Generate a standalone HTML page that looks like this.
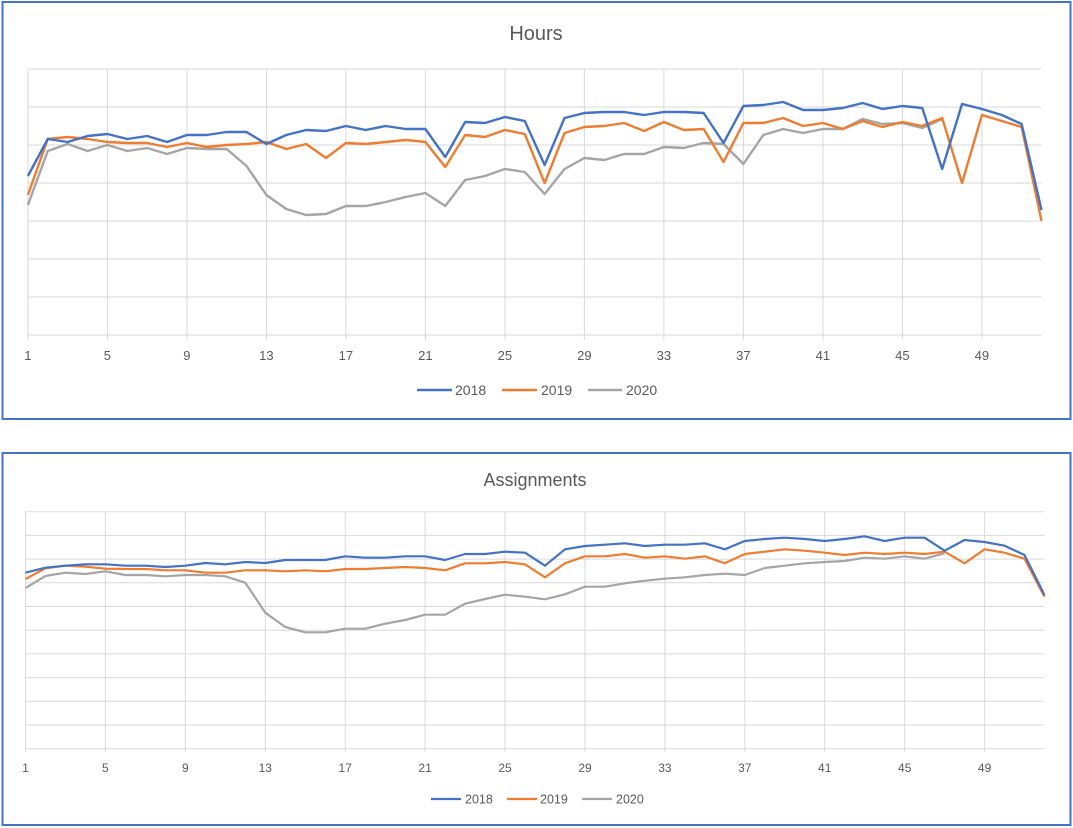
<!DOCTYPE html>
<html><head><meta charset="utf-8"><style>
html,body{margin:0;padding:0;background:#fff;}
svg{display:block;font-family:"Liberation Sans",sans-serif;}
</style></head><body>
<svg width="1073" height="828" viewBox="0 0 1073 828" xmlns="http://www.w3.org/2000/svg">
<rect x="0" y="0" width="1073" height="828" fill="#fff"/>
<!-- frames -->
<rect x="2.5" y="2" width="1068" height="417" fill="none" stroke="#4472c4" stroke-width="2"/>
<rect x="2.5" y="453" width="1068" height="372" fill="none" stroke="#4472c4" stroke-width="2"/>

<!-- TOP CHART -->
<text x="536" y="40" font-size="20" fill="#595959" text-anchor="middle">Hours</text>
<g stroke="#d9d9d9" stroke-width="1">
<line x1="27.9" x2="1041.5" y1="69" y2="69"/><line x1="27.9" x2="1041.5" y1="107" y2="107"/>
<line x1="27.9" x2="1041.5" y1="145" y2="145"/><line x1="27.9" x2="1041.5" y1="183" y2="183"/>
<line x1="27.9" x2="1041.5" y1="221" y2="221"/><line x1="27.9" x2="1041.5" y1="259" y2="259"/>
<line x1="27.9" x2="1041.5" y1="297" y2="297"/><line x1="27.9" x2="1041.5" y1="335" y2="335"/>
<line x1="27.9" x2="27.9" y1="69" y2="340"/><line x1="107.4" x2="107.4" y1="69" y2="340"/>
<line x1="186.9" x2="186.9" y1="69" y2="340"/><line x1="266.4" x2="266.4" y1="69" y2="340"/>
<line x1="345.9" x2="345.9" y1="69" y2="340"/><line x1="425.4" x2="425.4" y1="69" y2="340"/>
<line x1="504.9" x2="504.9" y1="69" y2="340"/><line x1="584.4" x2="584.4" y1="69" y2="340"/>
<line x1="663.9" x2="663.9" y1="69" y2="340"/><line x1="743.4" x2="743.4" y1="69" y2="340"/>
<line x1="822.9" x2="822.9" y1="69" y2="340"/><line x1="902.4" x2="902.4" y1="69" y2="340"/>
<line x1="981.9" x2="981.9" y1="69" y2="340"/>
</g>
<g font-size="13" fill="#595959" text-anchor="middle">
<text x="27.9" y="360">1</text><text x="107.4" y="360">5</text><text x="186.9" y="360">9</text>
<text x="266.4" y="360">13</text><text x="345.9" y="360">17</text><text x="425.4" y="360">21</text>
<text x="504.9" y="360">25</text><text x="584.4" y="360">29</text><text x="663.9" y="360">33</text>
<text x="743.4" y="360">37</text><text x="822.9" y="360">41</text><text x="902.4" y="360">45</text>
<text x="981.9" y="360">49</text>
</g>
<g fill="none" stroke-width="2.4" stroke-linejoin="round" transform="translate(8.025,0) scale(19.875,1)">
<polyline vector-effect="non-scaling-stroke" stroke="#a5a5a5" points="1,205 2,151 3,144 4,151 5,145 6,151 7,148 8,154 9,148 10,149 11,149 12,166 13,195 14,209 15,215 16,214 17,206 18,206 19,202 20,197 21,193 22,206 23,180 24,176 25,169 26,172 27,194 28,169 29,158 30,160 31,154 32,154 33,147 34,148 35,143 36,144 37,164 38,135 39,129 40,133 41,129 42,129 43,119 44,124 45,123 46,128 47,119"/>
<polyline vector-effect="non-scaling-stroke" stroke="#ed7d31" points="1,195 2,139 3,137 4,139 5,142 6,143 7,143 8,147 9,143 10,147 11,145 12,144 13,142 14,149 15,144 16,158 17,143 18,144 19,142 20,140 21,142 22,167 23,135 24,137 25,130 26,134 27,183 28,133 29,127 30,126 31,123 32,131 33,122 34,130 35,129 36,162 37,123 38,123 39,118 40,126 41,123 42,129 43,121 44,127 45,122 46,126 47,118 48,183 49,115 50,121 51,127 52,221"/>
<polyline vector-effect="non-scaling-stroke" stroke="#4472c4" points="1,176 2,139 3,142 4,136 5,134 6,139 7,136 8,142 9,135 10,135 11,132 12,132 13,144 14,135 15,130 16,131 17,126 18,130 19,126 20,129 21,129 22,157 23,122 24,123 25,117 26,121 27,165 28,118 29,113 30,112 31,112 32,115 33,112 34,112 35,113 36,143 37,106 38,105 39,102 40,110 41,110 42,108 43,103 44,109 45,106 46,108 47,169 48,104 49,109 50,115 51,124 52,210"/>
</g>
<g font-size="14" fill="#595959">
<line x1="417" x2="452" y1="390" y2="390" stroke="#4472c4" stroke-width="2.4"/><text x="455" y="395">2018</text>
<line x1="502" x2="537" y1="390" y2="390" stroke="#ed7d31" stroke-width="2.4"/><text x="541" y="395">2019</text>
<line x1="588" x2="622" y1="390" y2="390" stroke="#a5a5a5" stroke-width="2.4"/><text x="626" y="395">2020</text>
</g>

<!-- BOTTOM CHART -->
<text x="535" y="486" font-size="18" fill="#595959" text-anchor="middle">Assignments</text>
<g stroke="#d9d9d9" stroke-width="1">
<line x1="25.5" x2="1044.5" y1="511.7" y2="511.7"/><line x1="25.5" x2="1044.5" y1="535.4" y2="535.4"/>
<line x1="25.5" x2="1044.5" y1="559.1" y2="559.1"/><line x1="25.5" x2="1044.5" y1="582.8" y2="582.8"/>
<line x1="25.5" x2="1044.5" y1="606.5" y2="606.5"/><line x1="25.5" x2="1044.5" y1="630.2" y2="630.2"/>
<line x1="25.5" x2="1044.5" y1="653.9" y2="653.9"/><line x1="25.5" x2="1044.5" y1="677.6" y2="677.6"/>
<line x1="25.5" x2="1044.5" y1="701.3" y2="701.3"/><line x1="25.5" x2="1044.5" y1="725" y2="725"/>
<line x1="25.5" x2="1044.5" y1="748.7" y2="748.7"/>
<line x1="25.5" x2="25.5" y1="511.7" y2="752"/><line x1="105.4" x2="105.4" y1="511.7" y2="752"/>
<line x1="185.3" x2="185.3" y1="511.7" y2="752"/><line x1="265.3" x2="265.3" y1="511.7" y2="752"/>
<line x1="345.2" x2="345.2" y1="511.7" y2="752"/><line x1="425.1" x2="425.1" y1="511.7" y2="752"/>
<line x1="505" x2="505" y1="511.7" y2="752"/><line x1="585" x2="585" y1="511.7" y2="752"/>
<line x1="664.9" x2="664.9" y1="511.7" y2="752"/><line x1="744.8" x2="744.8" y1="511.7" y2="752"/>
<line x1="824.7" x2="824.7" y1="511.7" y2="752"/><line x1="904.7" x2="904.7" y1="511.7" y2="752"/>
<line x1="984.6" x2="984.6" y1="511.7" y2="752"/>
</g>
<g font-size="12" fill="#595959" text-anchor="middle">
<text x="25.5" y="772">1</text><text x="105.4" y="772">5</text><text x="185.3" y="772">9</text>
<text x="265.3" y="772">13</text><text x="345.2" y="772">17</text><text x="425.1" y="772">21</text>
<text x="505" y="772">25</text><text x="585" y="772">29</text><text x="664.9" y="772">33</text>
<text x="744.8" y="772">37</text><text x="824.7" y="772">41</text><text x="904.7" y="772">45</text>
<text x="984.6" y="772">49</text>
</g>
<g fill="none" stroke-width="2.2" stroke-linejoin="round" transform="translate(5.52,0) scale(19.98,1)">
<polyline vector-effect="non-scaling-stroke" stroke="#a5a5a5" points="1,588 2,576 3,572.7 4,574 5,571.3 6,575 7,575 8,576.3 9,575 10,575 11,576.3 12,582.7 13,612.7 14,627 15,632.3 16,632.3 17,628.7 18,628.7 19,623.7 20,620 21,614.7 22,614.7 23,603.7 24,599 25,594.7 26,596.7 27,599.3 28,594.3 29,586.7 30,586.7 31,583.3 32,580.7 33,578.7 34,577.3 35,575 36,573.7 37,575 38,568 39,565.7 40,563.3 41,562 42,561 43,557.7 44,558.7 45,556.3 46,558.7 47,553.3"/>
<polyline vector-effect="non-scaling-stroke" stroke="#ed7d31" points="1,579 2,568.3 3,565.7 4,566.7 5,568.7 6,569 7,569 8,570.3 9,570.3 10,572.7 11,572.7 12,570.3 13,570.3 14,571.3 15,570.3 16,571.3 17,569 18,569 19,568 20,567 21,568 22,570.3 23,563.3 24,563.3 25,562 26,564.3 27,577.3 28,563.3 29,556.3 30,556.3 31,554 32,557.7 33,556.3 34,558.7 35,556.3 36,563.3 37,554 38,551.7 39,549.3 40,550.7 41,552.7 42,555 43,552.7 44,554 45,552.7 46,554 47,551.7 48,563.3 49,549.3 50,552.7 51,558.7 52,596.7"/>
<polyline vector-effect="non-scaling-stroke" stroke="#4472c4" points="1,572.7 2,567.7 3,565.7 4,564.3 5,564.3 6,565.7 7,565.7 8,567 9,565.7 10,563 11,564.3 12,562 13,563 14,560 15,560 16,560 17,556.3 18,557.7 19,557.7 20,556.3 21,556.3 22,560 23,554 24,554 25,551.7 26,552.7 27,565.7 28,549.3 29,546 30,544.7 31,543.3 32,546 33,544.7 34,544.7 35,543.3 36,549.3 37,541 38,539 39,537.7 40,539 41,541 42,539 43,536.3 44,541 45,537.7 46,537.7 47,550.7 48,540 49,542 50,545.7 51,555 52,595"/>
</g>
<g font-size="12.5" fill="#595959">
<line x1="431" x2="461" y1="799" y2="799" stroke="#4472c4" stroke-width="2.2"/><text x="465" y="803.5">2018</text>
<line x1="507" x2="537" y1="799" y2="799" stroke="#ed7d31" stroke-width="2.2"/><text x="540" y="803.5">2019</text>
<line x1="582" x2="612" y1="799" y2="799" stroke="#a5a5a5" stroke-width="2.2"/><text x="616" y="803.5">2020</text>
</g>
</svg>
</body></html>
